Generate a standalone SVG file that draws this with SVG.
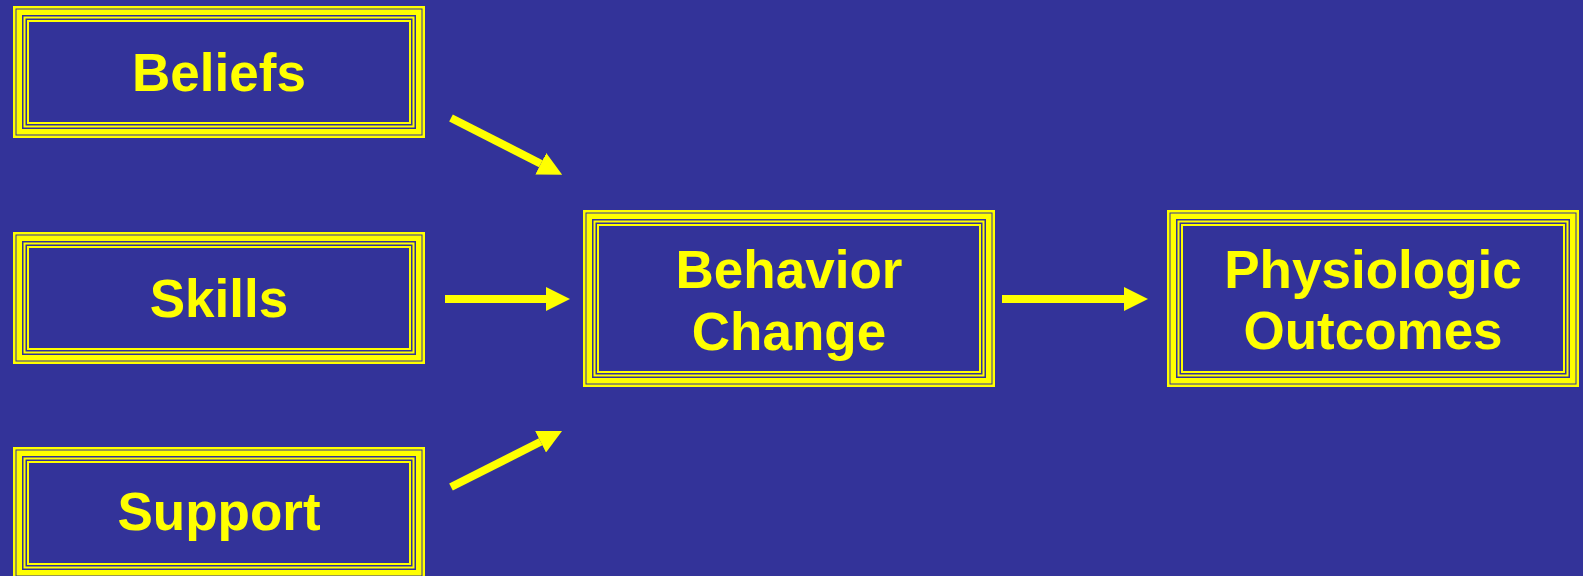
<svg xmlns="http://www.w3.org/2000/svg" width="1583" height="576" viewBox="0 0 1583 576">
<style>
.f{fill:none;stroke:#FFFF00}
.a{stroke-width:2.5}
.b{stroke-width:5.5}
.c{stroke-width:2}
.d{stroke-width:2}
.t{font-family:"Liberation Sans",Arial,sans-serif;font-weight:bold;font-size:53px;fill:#FFFF00;text-anchor:middle}
.ar{stroke:#FFFF00;stroke-width:8;fill:none}
</style>
<defs>
<marker id="h" markerUnits="userSpaceOnUse" markerWidth="24" markerHeight="24" refX="0" refY="12" orient="auto" viewBox="0 0 24 24">
<path d="M0,0 L24,12 L0,24 z" fill="#FFFF00"/>
</marker>
</defs>
<rect width="1583" height="576" fill="#333399"/>
<g id="beliefs">
<rect class="f a" x="14.25" y="7.25" width="409.5" height="129.5"/>
<rect class="f b" x="19.25" y="12.25" width="399.5" height="119.5"/>
<rect class="f c" x="24.5" y="17.5" width="389" height="109"/>
<rect class="f d" x="28" y="21" width="382" height="102"/>
<text class="t" x="219" y="91">Beliefs</text>
</g>
<g id="skills">
<rect class="f a" x="14.25" y="233.25" width="409.5" height="129.5"/>
<rect class="f b" x="19.25" y="238.25" width="399.5" height="119.5"/>
<rect class="f c" x="24.5" y="243.5" width="389" height="109"/>
<rect class="f d" x="28" y="247" width="382" height="102"/>
<text class="t" x="219" y="317">Skills</text>
</g>
<g id="support">
<rect class="f a" x="14.25" y="448.25" width="409.5" height="129.5"/>
<rect class="f b" x="19.25" y="453.25" width="399.5" height="119.5"/>
<rect class="f c" x="24.5" y="458.5" width="389" height="109"/>
<rect class="f d" x="28" y="462" width="382" height="102"/>
<text class="t" x="219" y="530">Support</text>
</g>
<g id="behavior">
<rect class="f a" x="584.25" y="211.25" width="409.5" height="174.5"/>
<rect class="f b" x="589.25" y="216.25" width="399.5" height="164.5"/>
<rect class="f c" x="594.5" y="221.5" width="389" height="154"/>
<rect class="f d" x="598" y="225" width="382" height="147"/>
<text class="t" x="789" y="288">Behavior</text>
<text class="t" x="789" y="350">Change</text>
</g>
<g id="physiologic">
<rect class="f a" x="1168.25" y="211.25" width="409.5" height="174.5"/>
<rect class="f b" x="1173.25" y="216.25" width="399.5" height="164.5"/>
<rect class="f c" x="1178.5" y="221.5" width="389" height="154"/>
<rect class="f d" x="1182" y="225" width="382" height="147"/>
<text class="t" x="1373" y="288">Physiologic</text>
<text class="t" x="1373" y="349">Outcomes</text>
</g>
<g id="connectors">
<line class="ar" x1="451" y1="118" x2="540.8" y2="163.8" marker-end="url(#h)"/>
<line class="ar" x1="445" y1="299" x2="546" y2="299" marker-end="url(#h)"/>
<line class="ar" x1="451" y1="487" x2="540.6" y2="441.8" marker-end="url(#h)"/>
<line class="ar" x1="1002" y1="299" x2="1124" y2="299" marker-end="url(#h)"/>
</g>
</svg>
